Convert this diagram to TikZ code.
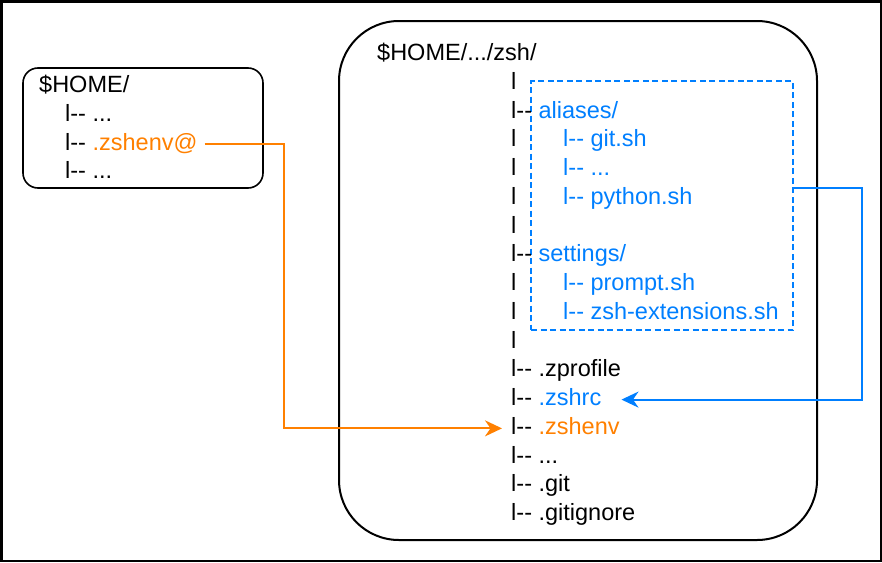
\documentclass[tikz,border=0pt]{standalone}
\usepackage{fontspec}
\setmainfont{Liberation Sans}
\usepackage{tikz}
\usetikzlibrary{calc,arrows.meta}
\definecolor{linkblue}{HTML}{007FFF}
\definecolor{linkorange}{HTML}{FF8000}
\def\twig{l-{}- }
\tikzset{
  treeline/.style={anchor=base west, inner sep=0pt, font=\fontsize{23.5}{28.75}\selectfont},
  folder/.style={draw, line width=1.6pt},
  dirbox/.style={draw=linkblue, line width=1.5pt, dash pattern=on 6pt off 3.5pt},
  link/.style={line width=2pt, -{Stealth[length=17pt, width=16pt, inset=5.5pt]}}
}

\begin{document}
\begin{tikzpicture}[x=1pt, y=-1pt]
		%%%%% START %%%%%
		\useasboundingbox (0, 0) rectangle (882, 562);
		\draw[line width=2.5pt] (1.25, 1.25) rectangle (880.75, 560.75);
		
		% home folder
		\node[folder, rounded corners=15pt, minimum width=240pt, minimum height=120pt] (homebox) at (143, 128) {};
		\node[treeline] (home) at (39, 92) {\$HOME/};
		\node[treeline] (homemore) at (65, 121) {\twig ...};
		\node[treeline] (zshenvlink) at (65, 150) {\twig \textcolor{linkorange}{.zshenv@}};
		\node[treeline] (homerest) at (65, 178) {\twig ...};
		
		% zsh folder
		\node[folder, line width=2pt, rounded corners=60pt, minimum width=478pt, minimum height=519pt] (zshbox) at (578, 280.5) {};
		\node[treeline] (zshroot) at (377, 60.6) {\$HOME/.../zsh/};
		\foreach \k in {1,3,4,5,6,8,9,10}
			\node[treeline] (pipe\k) at (511, 60.6+28.75*\k) {l};
		
		\node[dirbox, minimum width=262pt, minimum height=249pt] (aliasbox) at (662, 205.5) {};
		\node[treeline] (aliases) at (511, 118.1) {\twig \textcolor{linkblue}{aliases/}};
		\node[treeline, text=linkblue] (gitsh) at (563, 146.85) {\twig git.sh};
		\node[treeline, text=linkblue] (aliasmore) at (563, 175.6) {\twig ...};
		\node[treeline, text=linkblue] (pythonsh) at (563, 204.35) {\twig python.sh};
		\node[treeline] (settings) at (511, 261.85) {\twig \textcolor{linkblue}{settings/}};
		\node[treeline, text=linkblue] (promptsh) at (563, 290.6) {\twig prompt.sh};
		\node[treeline, text=linkblue] (zshextsh) at (563, 319.35) {\twig zsh-extensions.sh};
		
		\node[treeline] (zprofile) at (511, 376.85) {\twig .zprofile};
		\node[treeline] (zshrc) at (511, 405.6) {\twig \textcolor{linkblue}{.zshrc}};
		\node[treeline] (zshenv) at (511, 434.35) {\twig \textcolor{linkorange}{.zshenv}};
		\node[treeline] (zshmore) at (511, 463.1) {\twig ...};
		\node[treeline] (git) at (511, 491.85) {\twig .git};
		\node[treeline] (gitignore) at (511, 520.6) {\twig .gitignore};
		
		% links
		\coordinate (orangebend) at (284, 0);
		\coordinate (orangestart) at ([xshift=7pt, yshift=6pt]zshenvlink.base east);
		\draw[link, color=linkorange] (orangestart) -- (orangestart -| orangebend) |- ([xshift=-9pt, yshift=6pt]zshenv.base west);
		
		\coordinate (bluestart) at ($(aliasbox.north east)!0.43!(aliasbox.south east)$);
		\draw[link, color=linkblue] (bluestart) -- ++(68, 0) |- ([xshift=20pt, yshift=6pt]zshrc.base east);
		%%%%% END %%%%%
	\end{tikzpicture}
\end{document}
